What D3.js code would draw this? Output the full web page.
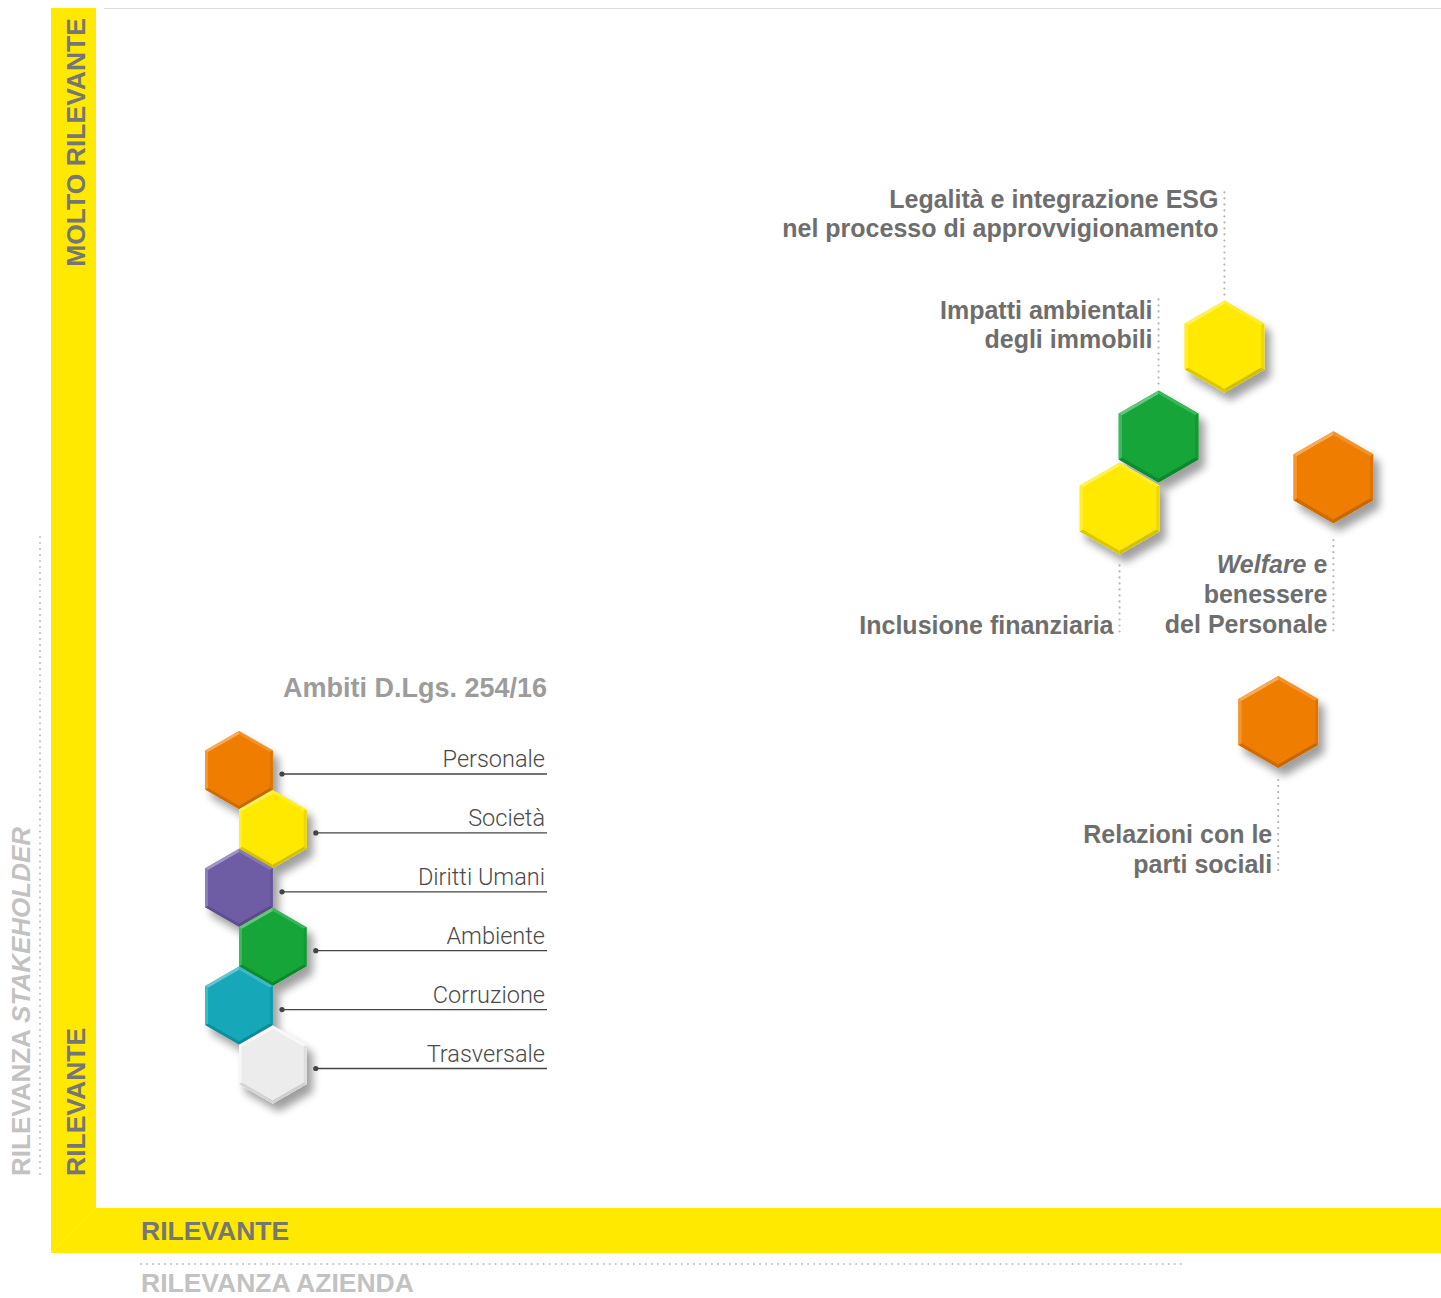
<!DOCTYPE html>
<html><head><meta charset="utf-8">
<script src="https://cdn.jsdelivr.net/npm/d3@7"></script>
<style>body{margin:0;background:#fff}</style>
</head><body><svg id="c" width="1441" height="1298"></svg>
<script>
// ---- DATA ----
const topicLines = [
  ["Legalità e integrazione ESG", "nel processo di approvvigionamento"],
  ["Impatti ambientali", "degli immobili"],
  ["Inclusione finanziaria"],
  ["*Welfare* e", "benessere", "del Personale"],
  ["Relazioni con le", "parti sociali"]
];
const topicAmbito = ["Società", "Ambiente", "Società", "Personale", "Personale"];
const rilevanzaAzienda = [8.39, 7.90, 7.61, 9.20, 8.79];
const rilevanzaStakeholder = [7.18, 6.43, 5.83, 6.09, 4.05];
const ambiti = ["Personale", "Società", "Diritti Umani", "Ambiente", "Corruzione", "Trasversale"];
const ambitoColors = ["#ef7d00", "#ffe900", "#6e5ca5", "#13a538", "#12a8b8", "#ececec"];
const legendTitle = "Ambiti D.Lgs. 254/16";
const yLevels = ["RILEVANTE", "MOLTO RILEVANTE"];
const xLevels = ["RILEVANTE"];
const yTitle = ["RILEVANZA ", "STAKEHOLDER"];
const xTitle = "RILEVANZA AZIENDA";

// ---- LAYOUT (not data) ----
const W = 1441, H = 1298;
const labelLayout = [
  {line: [-154, -48], base: [-138, -109]},
  {line: [-137, -47], base: [-117, -88]},
  {line: [57, 127], base: [126]},
  {line: [63, 158], base: [96, 126, 156]},
  {line: [58, 153], base: [121, 151]}
];

const svg = d3.select("#c");
const defs = svg.append("defs");
const f = defs.append("filter").attr("id", "sh").attr("x", "-40%").attr("y", "-40%").attr("width", "180%").attr("height", "180%");
f.append("feGaussianBlur").attr("in", "SourceAlpha").attr("stdDeviation", 4.5).attr("result", "b");
f.append("feOffset").attr("in", "b").attr("dx", 6).attr("dy", 8).attr("result", "o");
f.append("feComponentTransfer").attr("in", "o").attr("result", "t")
  .append("feFuncA").attr("type", "linear").attr("slope", 0.38);
const m = f.append("feMerge");
m.append("feMergeNode").attr("in", "t");
m.append("feMergeNode").attr("in", "SourceGraphic");

const x = d3.scaleLinear().domain([0, 10]).range([96, 1441]);
const y = d3.scaleLinear().domain([0, 10]).range([1208, 8]);

// ---- FRAME ----
const yellow = "#ffe900";
svg.append("line").attr("x1", 104).attr("x2", W).attr("y1", 8.5).attr("y2", 8.5)
  .attr("stroke", "#dcdcdc").attr("stroke-width", 1.2);
svg.append("rect").attr("x", 51).attr("y", 8).attr("width", 45).attr("height", 1245).attr("fill", yellow);
svg.append("rect").attr("x", 51).attr("y", 1208).attr("width", W - 51).attr("height", 45).attr("fill", yellow);
svg.append("line").attr("x1", 51).attr("y1", 1253).attr("x2", 96).attr("y2", 1208)
  .attr("stroke", "#fff270").attr("stroke-width", 0.5);

const bold = "'Liberation Sans', Arial, sans-serif";
svg.append("text").attr("transform", "translate(85,18) rotate(-90)").attr("text-anchor", "end")
  .attr("font-family", bold).attr("font-weight", 700).attr("font-size", 26.5).attr("fill", "#767676").text(yLevels[1]);
svg.append("text").attr("transform", "translate(85,1176) rotate(-90)").attr("text-anchor", "start")
  .attr("font-family", bold).attr("font-weight", 700).attr("font-size", 26.5).attr("fill", "#767676").text(yLevels[0]);
svg.append("text").attr("x", 141).attr("y", 1240)
  .attr("font-family", bold).attr("font-weight", 700).attr("font-size", 26.5).attr("fill", "#767676").text(xLevels[0]);

const yt = svg.append("text").attr("transform", "translate(30,1176) rotate(-90)")
  .attr("font-family", bold).attr("font-weight", 700).attr("font-size", 26).attr("fill", "#c2c2c2");
yt.append("tspan").text(yTitle[0]);
yt.append("tspan").attr("font-style", "italic").text(yTitle[1]);
svg.append("text").attr("x", 141).attr("y", 1292)
  .attr("font-family", bold).attr("font-weight", 700).attr("font-size", 26.5).attr("fill", "#c2c2c2").text(xTitle);

const dotted = (x1, y1, x2, y2, c) => svg.append("line").attr("x1", x1).attr("y1", y1).attr("x2", x2).attr("y2", y2)
  .attr("stroke", c || "#b4b4b4").attr("stroke-width", 2.2).attr("stroke-linecap", "round").attr("stroke-dasharray", "0.01 6");
dotted(141, 1264, 1183, 1264, "#c4c4c4");
dotted(40, 537, 40, 1177, "#c4c4c4");

// ---- HEX ----
function hexPts(cx, cy, r) {
  return d3.range(6).map(i => {
    const a = (-90 + 60 * i) * Math.PI / 180;
    return [cx + r * Math.cos(a), cy + r * Math.sin(a)];
  });
}
function hex(g, cx, cy, r, color) {
  const gg = g.append("g").attr("filter", "url(#sh)");
  const outer = hexPts(cx, cy, r);
  const bw = r > 42 ? 3.2 : 2.8;
  const inner = hexPts(cx, cy, r - bw / Math.cos(Math.PI / 6));
  gg.append("polygon").attr("points", outer.map(p => p.join(",")).join(" ")).attr("fill", color);
  const light = t => d3.interpolateRgb(color, "#ffffff")(t);
  const dark = t => d3.interpolateRgb(color, "#000000")(t);
  const white = color === "#ececec";
  const edgeCols = white
    ? ["#f8f8f8", "#dedede", "#cfcfcf", "#d4d4d4", "#f6f6f6", "#fdfdfd"]
    : [light(0.18), dark(0.07), dark(0.18), dark(0.14), light(0.2), light(0.35)];
  for (let i = 0; i < 6; i++) {
    const j = (i + 1) % 6;
    gg.append("polygon").attr("points", [outer[i], outer[j], inner[j], inner[i]].map(p => p.join(",")).join(" "))
      .attr("fill", edgeCols[i]);
  }
}

// ---- TOPICS ----
const R = 46;
const gHex = svg.append("g");
const gLab = svg.append("g");
topicLines.forEach((lines, i) => {
  const cx = x(rilevanzaAzienda[i]), cy = y(rilevanzaStakeholder[i]);
  const L = labelLayout[i];
  dotted(cx, cy + L.line[0], cx, cy + L.line[1]);
  lines.forEach((ln, k) => {
    const t = gLab.append("text").attr("x", cx - 6).attr("y", cy + L.base[k]).attr("text-anchor", "end")
      .attr("font-family", bold).attr("font-weight", 700).attr("font-size", 25).attr("fill", "#6e6e6e");
    const parts = ln.split("*");
    parts.forEach((p, pi) => { if (p) t.append("tspan").attr("font-style", pi % 2 ? "italic" : null).text(p); });
  });
});
topicLines.forEach((lines, i) => {
  const cx = x(rilevanzaAzienda[i]), cy = y(rilevanzaStakeholder[i]);
  hex(gHex, cx, cy, R, ambitoColors[ambiti.indexOf(topicAmbito[i])]);
});

// ---- LEGEND ----
const lr = 39, lx0 = 239, ly0 = 770;
const ldx = lr * Math.cos(Math.PI / 6), ldy = 58.9;
const gL = svg.append("g");
svg.append("text").attr("x", 547).attr("y", 697).attr("text-anchor", "end")
  .attr("font-family", bold).attr("font-weight", 700).attr("font-size", 27).attr("fill", "#9c9c9c").text(legendTitle);
ambiti.forEach((a, i) => {
  const cx = lx0 + (i % 2) * ldx, cy = ly0 + i * ldy;
  hex(gL, cx, cy, lr, ambitoColors[i]);
});
ambiti.forEach((a, i) => {
  const cx = lx0 + (i % 2) * ldx, cy = ly0 + i * ldy;
  const lyy = cy + 4;
  svg.append("line").attr("x1", cx + 43).attr("x2", 547).attr("y1", lyy).attr("y2", lyy)
    .attr("stroke", "#444").attr("stroke-width", 1.3);
  svg.append("circle").attr("cx", cx + 43).attr("cy", lyy).attr("r", 2.6).attr("fill", "#444");
  svg.append("text").attr("x", 545).attr("y", lyy - 7).attr("text-anchor", "end")
    .attr("font-family", "Roboto, 'Open Sans', sans-serif").attr("font-weight", 300).attr("font-size", 23.5)
    .attr("fill", "#4a4a4a").text(a);
});
</script></body></html>
